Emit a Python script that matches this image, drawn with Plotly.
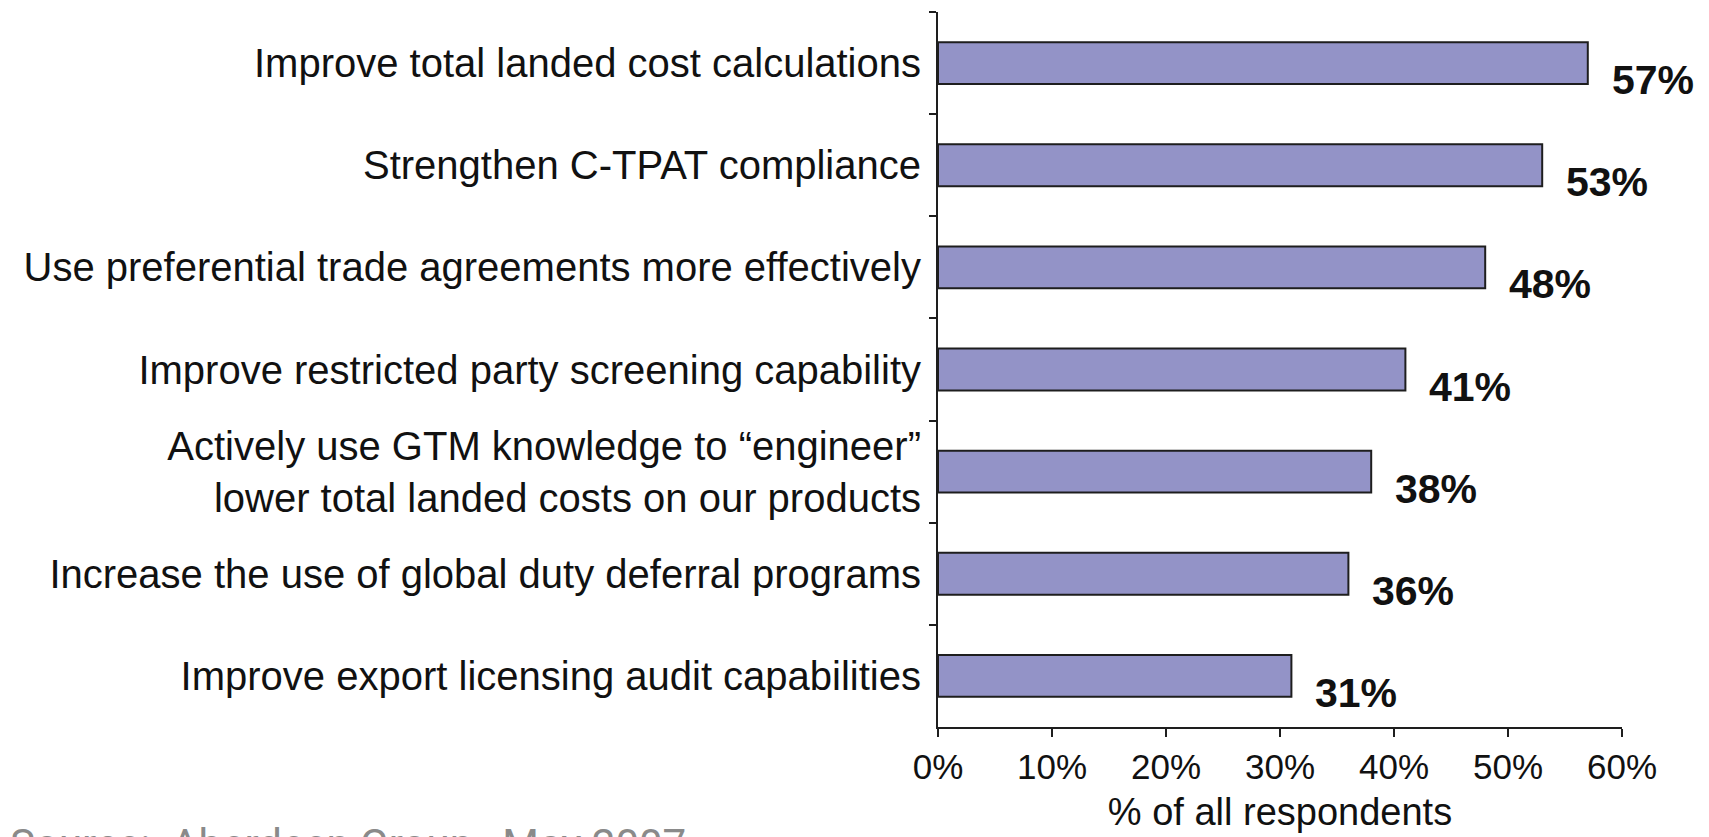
import plotly.graph_objects as go

categories = [
    "Improve total landed cost calculations",
    "Strengthen C-TPAT compliance",
    "Use preferential trade agreements more effectively",
    "Improve restricted party screening capability",
    "Actively use GTM knowledge to \u201cengineer\u201d<br>lower total landed costs on our products",
    "Increase the use of global duty deferral programs",
    "Improve export licensing audit capabilities",
]
values = [57, 53, 48, 41, 38, 36, 31]
x_ticks = [0, 10, 20, 30, 40, 50, 60]
x_tick_labels = ["0%", "10%", "20%", "30%", "40%", "50%", "60%"]
x_title = "% of all respondents"
source_note = "Source:  Aberdeen Group,  May 2007"

bar_color = "#9393C7"
edge_color = "#1E1E1E"

L, R, T, B = 930, 95, 4, 118
W, H = 1709, 837
plot_w = W - L - R
plot_h = H - T - B

fig = go.Figure()
fig.add_trace(go.Bar(
    x=values,
    y=categories,
    orientation="h",
    width=0.41,
    marker=dict(color=bar_color, line=dict(color=edge_color, width=2)),
    hoverinfo="x+y",
))

for v, c in zip(values, categories):
    fig.add_annotation(
        x=v, y=c, xref="x", yref="y",
        text=f"{v}%", showarrow=False,
        xanchor="left", yanchor="middle",
        xshift=22, yshift=-17,
        font=dict(family="Liberation Sans", size=41, color="#111111", weight="bold"),
    )

fig.add_annotation(
    x=(0 - L) / plot_w, y=(H - B - 810) / plot_h, xref="paper", yref="paper",
    text=source_note, showarrow=False,
    xanchor="left", yanchor="top",
    font=dict(family="Roboto", size=42, color="#8a8a8a"),
)

fig.update_layout(
    width=W, height=H,
    margin=dict(l=L, r=R, t=T, b=B),
    paper_bgcolor="white", plot_bgcolor="white",
    showlegend=False,
    font=dict(family="Liberation Sans", color="#111111"),
)
fig.update_xaxes(
    range=[0, 60], tickvals=x_ticks, ticktext=x_tick_labels,
    showgrid=False, zeroline=False,
    showline=True, linecolor=edge_color, linewidth=2,
    ticks="outside", ticklen=8, tickwidth=2, tickcolor=edge_color,
    tickfont=dict(size=35, family="Liberation Sans"),
    title=dict(text=x_title, font=dict(size=38, family="Liberation Sans"), standoff=13),
    automargin=False, fixedrange=True,
)
fig.update_yaxes(
    categoryorder="array", categoryarray=categories,
    range=[6.5, -0.5],
    showgrid=False, zeroline=False,
    showline=True, linecolor=edge_color, linewidth=2,
    ticks="outside", tickson="boundaries", ticklen=7, tickwidth=2, tickcolor=edge_color,
    tickfont=dict(size=40, family="Liberation Sans"),
    ticklabelstandoff=7,
    automargin=False, fixedrange=True,
)

fig.write_html("out.html")
